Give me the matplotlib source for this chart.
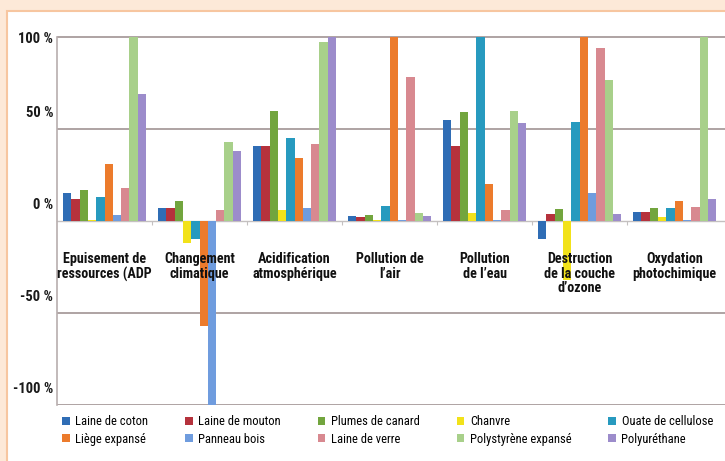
import matplotlib
matplotlib.use("Agg")
import matplotlib.pyplot as plt
import matplotlib.transforms as mtransforms
from matplotlib.patches import Rectangle
from matplotlib import font_manager
import numpy as np

# Impact categories (x axis)
categories = [
    "Epuisement de\nressources (ADP",
    "Changement\nclimatique",
    "Acidification\natmosphérique",
    "Pollution de\nl\u2019air",
    "Pollution\nde l\u2019eau",
    "Destruction\nde la couche\nd\u2019ozone",
    "Oxydation\nphotochimique",
]

# Insulation materials (series)
materials = [
    "Laine de coton", "Laine de mouton", "Plumes de canard", "Chanvre",
    "Ouate de cellulose", "Liège expansé", "Panneau bois", "Laine de verre",
    "Polystyrène expansé", "Polyuréthane",
]
colors = [
    "#2F6DB5", "#B5323C", "#72A53E", "#F2E21A", "#279ABF",
    "#EC7B2C", "#6F9CDE", "#D88990", "#A8D08A", "#9C8CCB",
]

# values in % (one list per material, in category order)
laine_coton = [15, 7, 41, 2.5, 55, -10, 5]
laine_mouton = [12, 7, 41, 2, 41, 4, 5]
plumes_canard = [17, 11, 60, 3, 59, 6.5, 7]
chanvre = [0.5, -12, 6, 0.5, 4.5, -32, 2]
ouate_cellulose = [13, -10, 45, 8, 100, 54, 7]
liege_expanse = [31, -57, 34, 100, 20, 100, 11]
panneau_bois = [3, -100, 7, 0.3, 0.3, 15, 0.3]
laine_verre = [18, 6, 42, 78, 6, 94, 7.5]
polystyrene = [100, 43, 97, 4.5, 59.5, 76.5, 100]
polyurethane = [69, 38, 100, 2.7, 53, 4, 12]

series = [laine_coton, laine_mouton, plumes_canard, chanvre, ouate_cellulose,
          liege_expanse, panneau_bois, laine_verre, polystyrene, polyurethane]

y_ticks = [100, 50, 0, -50, -100]
y_labels = ["100 %", "50 %", "0 %", "-50 %", "-100 %"]
grid_values = [100, 50, -50, -100]

# condensed font if there is one, else something close
installed = {f.name for f in font_manager.fontManager.ttflist}
font = [f for f in ["Roboto Condensed", "Liberation Sans Narrow", "Lato"]
        if f in installed] + ["DejaVu Sans"]

fig = plt.figure(figsize=(7.25, 4.61), dpi=100)
fig.patch.set_facecolor("#FDE9D8")
# white panel with a thin orange border (left and top)
fig.patches.append(Rectangle((7 / 725, -0.05), 1.1, 1.05 - 11 / 461,
                             transform=fig.transFigure, facecolor="white",
                             edgecolor="#F7C6A0", linewidth=1.5, zorder=-5))

ax = fig.add_axes([57 / 725, 56 / 461, 668 / 725, (405 - 29.6) / 461])
ax.set_facecolor("none")
ax.set_zorder(2)

n = len(series)
width = 0.0875
x = np.arange(len(categories))
for j, (vals, name, col) in enumerate(zip(series, materials, colors)):
    ax.bar(x + (j - (n - 1) / 2) * width, vals, width=width, color=col,
           label=name, zorder=3)

ax.set_xlim(-0.5, 6.53)
ax.set_ylim(-100, 104)

for g in grid_values:
    ax.axhline(g, color="#A89C9C", linewidth=1.3, zorder=1)

for s in ["top", "right"]:
    ax.spines[s].set_visible(False)
ax.spines["left"].set_color("#B8AEAE")
ax.spines["left"].set_linewidth(1.2)
ax.spines["left"].set_bounds(-100, 100)
ax.spines["bottom"].set_position(("data", 0))
ax.spines["bottom"].set_color("#C4C0C0")
ax.spines["bottom"].set_linewidth(1.0)
ax.spines["bottom"].set_zorder(2)

ax.set_xticks(np.arange(0.5, 6.5, 1))
ax.tick_params(axis="x", length=3, color="#C4C0C0", labelbottom=False)
ax.set_yticks([])

# y labels sit slightly above their lines in the original
for v, lab in zip(y_ticks, y_labels):
    dy = -2 if v == 100 else 16
    off = mtransforms.ScaledTranslation(-4 / 100, dy / 100, fig.dpi_scale_trans)
    ax.text(0, v, lab, transform=ax.get_yaxis_transform() + off,
            ha="right", va="center", fontsize=10.5, fontweight="bold",
            family=font, color="#1a1a1a")

# category labels under the zero line
for xi, cat in zip(x, categories):
    ax.text(xi, -17, cat, ha="center", va="top", fontsize=10.2,
            fontweight="bold", family=font, linespacing=1.05,
            color="#111111", zorder=4)

# legend: two rows of five
handles, labels = ax.get_legend_handles_labels()
order = [0, 5, 1, 6, 2, 7, 3, 8, 4, 9]
fig.legend([handles[i] for i in order], [labels[i] for i in order],
           loc="upper left", bbox_to_anchor=(56 / 725, 1 - 409 / 461),
           ncol=5, frameon=False, handlelength=0.6, handleheight=0.6,
           handletextpad=0.45, columnspacing=2.95, labelspacing=0.36,
           prop={"family": font, "size": 9}, borderpad=0)

fig.savefig("out.png", dpi=100, facecolor=fig.get_facecolor())
